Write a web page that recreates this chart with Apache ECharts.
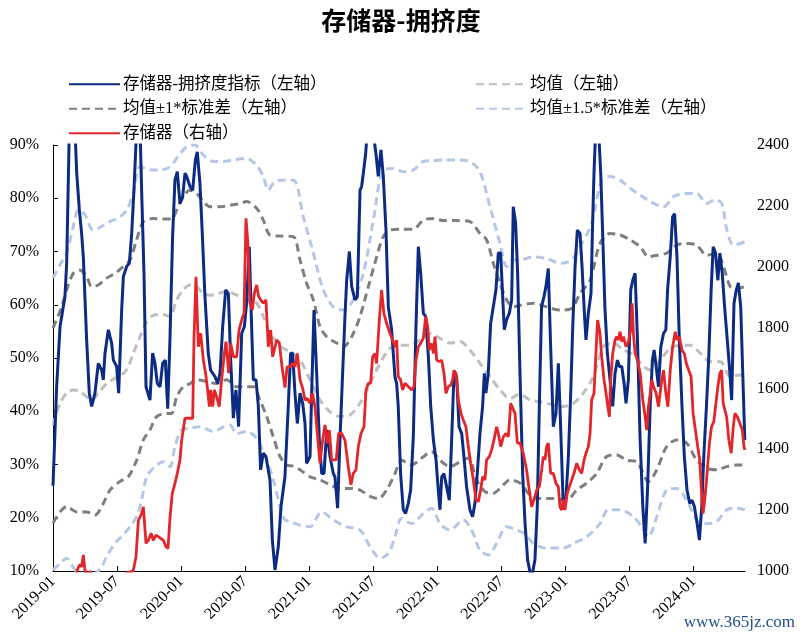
<!DOCTYPE html>
<html><head><meta charset="utf-8">
<script src="https://cdn.jsdelivr.net/npm/echarts@6/dist/echarts.min.js"></script>
<style>html,body{margin:0;padding:0;background:#fff}#c{width:802px;height:639px}</style>
</head><body><div id="c"></div>
<script>
// x = months since 2019-01
const xTickLabels = ['2019-01','2019-07','2020-01','2020-07','2021-01','2021-07','2022-01','2022-07','2023-01','2023-07','2024-01'];
const leftTicks = [10,20,30,40,50,60,70,80,90];
const rightTicks = [1000,1200,1400,1600,1800,2000,2200,2400];

// 存储器-拥挤度指标 (%)
const crowd = [[0,26],[0.34,44.6],[0.66,55.9],[1.12,61.5],[1.28,67.8],[1.53,93],[2.06,93],[2.22,84.7],[2.47,77.8],[2.68,73.4],[2.84,69],[3.15,53.4],[3.4,43.4],[3.62,40.9],[3.93,43.4],[4.24,49],[4.56,47.7],[4.71,45.9],[4.87,50.9],[5.18,55.3],[5.49,52.8],[5.65,49.6],[5.96,48.4],[6.15,43.4],[6.43,59],[6.59,65.3],[6.9,67.2],[7.15,67.8],[7.37,73.4],[7.58,81.5],[7.83,93],[8.15,93],[8.3,81.5],[8.52,65.9],[8.71,44.6],[9.08,42.1],[9.33,50.9],[9.55,49],[9.77,45.2],[10.02,44.6],[10.27,49],[10.52,49.6],[10.74,40.5],[10.95,53.4],[11.2,72.8],[11.42,83.4],[11.64,85],[11.89,79],[12.14,80.3],[12.36,84.7],[12.52,84.1],[12.83,82.2],[13.08,81.5],[13.33,87.2],[13.51,88.7],[13.76,82.8],[13.98,73.4],[14.23,61.5],[14.54,50.9],[14.76,47.7],[15.17,46.5],[15.42,45.2],[15.64,47.1],[15.89,55.9],[16.17,62.8],[16.42,62.1],[16.64,49.6],[16.89,38.7],[17.13,44],[17.38,37.1],[17.67,54.6],[17.92,55.9],[18.13,60.3],[18.38,70.9],[18.6,55.9],[18.76,45.9],[19.01,45.9],[19.23,40.9],[19.44,29],[19.69,32.1],[19.94,31.5],[20.32,27.1],[20.54,15.8],[20.79,10.2],[21.1,14.6],[21.35,22.1],[21.72,27.7],[22.03,40.9],[22.25,50.9],[22.44,50.9],[22.66,43.4],[22.88,37.7],[23.13,43.4],[23.38,41.5],[23.6,37.7],[23.75,30.2],[24.07,31.5],[24.22,43.4],[24.44,59],[24.69,47.1],[24.94,34.6],[25.16,28.3],[25.38,28.3],[25.63,36.5],[25.94,31.5],[26.25,28.3],[26.4,27.7],[26.65,21.8],[26.87,34.6],[27.12,47.1],[27.34,57.8],[27.5,64.6],[27.75,70],[27.97,63.4],[28.28,60.9],[28.5,61.5],[28.75,81.5],[28.9,82.2],[29.06,84.7],[29.28,88.4],[29.44,93],[29.7,95],[29.95,93],[30.24,88.4],[30.46,84.1],[30.71,89.1],[30.93,84.1],[31.18,74],[31.4,59.6],[31.71,55.3],[32.02,46.5],[32.18,45.2],[32.33,40.9],[32.55,28.3],[32.8,21.5],[33.02,20.8],[33.27,22.7],[33.49,25.2],[33.74,35.2],[33.99,55.9],[34.21,70.9],[34.43,65.9],[34.68,58.4],[34.9,57.8],[35.15,50.3],[35.37,40.9],[35.62,34.6],[35.87,30.8],[36.08,25.2],[36.24,21.5],[36.4,27.7],[36.61,28.3],[36.86,25.8],[37.11,23.3],[37.33,34.6],[37.55,47.1],[37.8,46.5],[38.02,37.1],[38.27,35.8],[38.48,31.5],[38.73,25.8],[39.04,21.5],[39.29,20.2],[39.51,22.7],[39.73,28.3],[39.98,35.8],[40.23,40.9],[40.39,47.1],[40.54,43.4],[40.76,47.1],[40.98,56.5],[41.23,59.6],[41.48,62.8],[41.7,69.7],[41.92,69.7],[42.11,61.5],[42.26,55.3],[42.48,57.2],[42.73,58.4],[42.95,60.9],[43.1,78.4],[43.32,75.3],[43.51,65.9],[43.73,47.1],[43.98,28.3],[44.2,19],[44.45,12],[44.7,9.5],[44.85,9],[45.13,12.1],[45.35,22.1],[45.54,40.9],[45.75,59.6],[45.97,61.5],[46.16,63.4],[46.38,66.8],[46.6,52.1],[46.85,37.1],[47.1,39.6],[47.32,49],[47.47,40.9],[47.63,31.5],[47.79,21.5],[48.04,24],[48.26,31.5],[48.48,43.4],[48.67,55.9],[48.89,67.2],[49.1,74],[49.35,73.4],[49.54,67.2],[49.76,58.4],[49.91,53.4],[50.13,58.4],[50.38,62.1],[50.53,75.3],[50.66,84.7],[50.84,94],[51.06,94],[51.29,84.7],[51.48,72.8],[51.68,59.6],[51.91,50.9],[52.16,45.9],[52.41,40.9],[52.63,47.1],[52.85,49.6],[53.04,48.4],[53.26,48.4],[53.48,45.2],[53.66,41.5],[53.88,45.9],[54.1,62.8],[54.29,64.6],[54.51,65.9],[54.73,53.4],[54.98,34.6],[55.23,22.1],[55.45,15.2],[55.67,25.2],[55.92,40.9],[56.13,49.6],[56.29,51.5],[56.48,48.4],[56.7,44.6],[56.92,52.1],[57.17,54.6],[57.39,55.3],[57.55,62.8],[57.8,69],[58.02,76.5],[58.21,77.1],[58.43,69],[58.65,53.4],[58.9,40.9],[59.12,31.5],[59.37,25.2],[59.62,22.7],[59.84,23.3],[60.06,22.1],[60.31,19],[60.53,15.8],[60.75,22.1],[60.94,31.5],[61.19,40.9],[61.41,50.3],[61.63,62.8],[61.82,70.9],[62.04,69.7],[62.26,64.6],[62.45,69.7],[62.67,65.9],[62.89,59.6],[63.14,53.4],[63.39,47.1],[63.55,42.1],[63.77,60.3],[63.99,62.8],[64.18,64.1],[64.4,59.6],[64.59,47.1],[64.78,34.6]];

// 均值
const meanLine = [[0,37.4],[0.66,41.5],[1.28,43.4],[1.9,44],[2.53,43.7],[3.15,42.7],[3.62,42.1],[4.24,43.4],[5.02,45.2],[5.81,46.2],[6.59,47.1],[7.05,48.4],[7.52,50.9],[8.15,54],[8.77,56.8],[9.55,58.1],[10.33,58.1],[10.96,57.8],[11.58,60.9],[12.2,62.8],[12.83,63.7],[13.45,63.4],[14.08,62.1],[14.7,61.8],[15.48,62.1],[16.26,62.5],[17.2,61.8],[18.13,60.9],[19.07,60.3],[19.69,57.8],[20.32,54.6],[20.94,53.1],[21.57,51.8],[22.19,51.2],[23.13,49.6],[24.07,45.9],[25,42.1],[25.94,39.9],[26.87,39],[27.81,39.3],[28.75,41.5],[29.68,45.2],[30.62,49],[31.55,51.8],[32.49,52.4],[33.43,52.4],[34.36,53.4],[35.3,54.6],[36.24,53.7],[37.17,52.8],[38.11,53.1],[39.04,51.5],[39.98,49],[40.92,46.5],[41.86,44],[42.79,42.4],[43.73,43.2],[44.66,42.1],[45.6,41.8],[46.85,41.2],[47.79,40.9],[48.73,41.5],[49.66,43.4],[50.6,46.5],[51.53,52.1],[52.47,52.8],[53.41,51.5],[54.35,50.6],[55.29,48.4],[56.07,47.7],[56.85,49.6],[57.8,51.8],[58.73,52.4],[59.66,52.4],[60.6,50.9],[61.53,49.3],[62.48,49.3],[63.42,46.5],[64.33,46.8],[64.78,46.8]];

// 均值+1*标准差
const upper1 = [[0,55.6],[0.81,59.6],[1.28,62.8],[1.9,65.9],[2.53,66.5],[3.15,65.3],[3.62,63.4],[4.24,63.7],[5.02,65],[5.81,65.9],[6.59,67.2],[7.21,68.4],[7.83,72.2],[8.46,75.6],[9.39,76.2],[10.33,76.1],[11.11,76.1],[11.58,77.8],[12.2,80.3],[12.83,81.5],[13.45,80.9],[14.08,79.4],[14.7,78.4],[15.64,78.4],[16.57,78.7],[17.51,79],[18.13,79.4],[19.07,78.1],[19.69,75.9],[20.32,73.1],[21.26,72.9],[22.5,72.8],[23.13,68.4],[23.75,64],[24.38,60.9],[25,55.9],[25.63,54],[26.56,52.8],[27.19,52.1],[27.97,54],[28.75,57.8],[29.53,63.4],[30.31,69],[30.93,72.8],[31.55,74],[32.49,74.2],[33.74,74.2],[34.68,75.9],[35.62,76.2],[36.55,75.8],[37.8,75.8],[39.04,75.6],[39.98,73.4],[40.6,72.2],[41.23,67.8],[41.86,64],[42.48,60.9],[43.1,59.6],[43.73,59.9],[44.97,60.3],[46.22,59.6],[47.47,59],[48.56,59.3],[49.35,62.1],[50.29,64.6],[51.22,71.5],[52.16,73.4],[53.1,73.1],[54.04,72.2],[54.98,70.9],[55.76,69],[56.54,69.3],[57.47,69.7],[58.4,71.2],[59.34,71.5],[60.28,71.2],[61.22,69.3],[62.16,69.7],[62.78,67.2],[63.42,63.4],[64.04,63.1],[64.78,63.4]];

// 均值-1*标准差
const lower1 = [[0,19],[0.66,21.1],[1.28,22.1],[2.22,21.1],[3.15,21.1],[3.93,20.5],[4.71,22.7],[5.34,25.2],[6.27,26.8],[7.05,27.7],[7.83,30.8],[8.46,34.6],[9.08,36.5],[9.71,39],[10.64,39.6],[11.11,39.6],[11.58,42.7],[12.2,44.6],[12.83,45.2],[13.45,45.9],[14.39,45.6],[15.32,45.2],[16.26,45.9],[17.2,44.6],[18.13,44.6],[18.76,44.6],[19.38,42.1],[20.01,39],[20.63,35.2],[21.26,31.5],[21.88,29.9],[22.5,29.7],[23.13,29],[24.07,27.7],[25,27.1],[25.94,26.2],[26.87,25.5],[27.81,25.5],[28.75,25.2],[29.68,24],[30.46,23.6],[31.24,25.2],[32.02,28.3],[32.65,30.8],[33.58,29.9],[34.52,31.2],[35.46,32.4],[36.24,30.8],[37.17,29.6],[38.11,30.5],[38.89,31.2],[39.67,27.1],[40.45,24.9],[41.23,24.6],[41.86,25.5],[42.79,27.1],[43.73,26.5],[44.66,24.3],[45.6,23.6],[46.85,23.6],[48.1,23.3],[49.04,25.2],[49.97,26.5],[50.91,28.3],[51.84,31.5],[52.79,31.8],[53.72,30.8],[54.66,30.5],[55.76,26.8],[56.54,29],[57.47,33.4],[58.4,34.6],[59.34,34],[60.28,30.8],[61.22,29.3],[62.16,29],[63.09,29.6],[64.04,29.9],[64.78,29.9]];

// 均值+1.5*标准差
const upper15 = [[0,65],[0.66,67.5],[1.28,69.7],[1.9,74.7],[2.37,77.8],[2.99,76.9],[3.46,74.7],[3.78,74],[4.56,74.7],[5.34,75.6],[6.27,76.5],[6.9,77.8],[7.52,80.9],[8.15,85.9],[9.08,85.3],[10.02,85.3],[10.96,85.9],[11.58,87.5],[12.52,89.7],[13.3,90],[14.08,88.1],[15.01,86.9],[15.95,86.9],[16.89,87.2],[18.13,87.5],[19.07,86.2],[19.69,84.1],[20.16,81.5],[20.63,82.8],[21.26,83.4],[22.5,83.4],[23.44,76.5],[24.38,69.7],[25.31,62.8],[26.25,59.6],[27.19,59],[28.12,60.9],[29.06,65.9],[30,75.9],[30.93,85.3],[31.87,85.6],[32.8,85],[33.74,85.3],[34.68,86.9],[35.62,87.1],[36.55,87.2],[37.8,87.2],[39.04,86.9],[39.98,85],[40.92,78.4],[41.86,71.5],[42.48,67.2],[43.1,68.4],[43.73,68.4],[44.97,69],[46.22,68.7],[47.47,67.8],[48.56,68.4],[49.51,71.5],[50.44,75.3],[51.38,83.4],[52.16,84.1],[53.1,83.4],[54.04,81.9],[54.98,80.6],[55.92,79.4],[57.17,78.4],[58.11,80.3],[59.21,80.9],[60.28,80.9],[61.22,79],[62,79.7],[62.63,79],[63.11,74],[63.73,71.2],[64.78,71.8]];

// 均值-1.5*标准差
const lower15 = [[0,10.2],[0.66,11.4],[1.28,12.4],[1.75,11.1],[2.22,9.9],[3.15,9.5],[3.93,9.6],[4.56,10.8],[5.02,12.7],[5.81,15.2],[6.59,16.8],[7.21,18.3],[7.83,20.2],[8.3,23.3],[8.77,27.7],[9.55,29.6],[10.33,30.5],[10.96,29.6],[11.42,33.4],[12.05,36.5],[12.83,36.8],[13.76,37.1],[15.01,36.2],[16.01,37.1],[16.57,37.4],[17.2,35.8],[18.13,36.2],[19.07,34.9],[20.01,30.8],[20.63,27.1],[21.26,22.1],[21.72,19.6],[22.19,19.3],[23.13,18.6],[24.07,18.3],[25.16,21.1],[26.25,19.6],[27.5,18.3],[28.75,17.7],[29.68,14.6],[30.62,12.4],[31.4,13.3],[32.02,16.4],[32.65,19.9],[33.58,18.9],[34.68,20.8],[35.46,21.8],[36.24,18.9],[37.17,17.7],[38.42,19.6],[39.2,17.7],[39.98,13.9],[40.76,13],[41.54,15.2],[42.48,18.3],[43.42,17.7],[44.2,17],[44.97,15.2],[46.22,14.3],[47.79,14.3],[48.73,15.2],[49.97,16.4],[51.22,18.9],[51.99,21.5],[53.1,21.5],[54.35,20.2],[55.13,18.3],[55.76,16.4],[56.54,20.2],[57.47,25.2],[58.4,25.5],[59.34,23.3],[60.28,19.6],[61.22,18.9],[62.16,19.3],[63.09,21.5],[64.04,21.8],[64.78,21.5]];

// 存储器 (right axis)
const storage = [[0,950],[2.2,990],[2.28,1003],[2.47,1020],[2.68,1014],[2.84,1053],[2.99,1003],[3.2,985],[3.5,1000],[3.7,970],[6.5,975],[7.0,995],[7.5,1000],[7.77,1045],[7.99,1165],[8.3,1189],[8.46,1211],[8.71,1091],[8.93,1101],[9.18,1124],[9.39,1101],[9.64,1118],[9.86,1113],[10.08,1107],[10.33,1101],[10.58,1080],[10.77,1074],[10.96,1178],[11.17,1255],[11.42,1288],[11.64,1321],[11.89,1365],[12.05,1430],[12.36,1502],[12.83,1502],[13.08,1502],[13.2,1759],[13.39,1967],[13.61,1737],[13.83,1781],[14.08,1693],[14.29,1650],[14.48,1595],[14.64,1540],[14.76,1595],[14.95,1540],[15.11,1595],[15.32,1573],[15.57,1540],[15.79,1628],[16.01,1704],[16.2,1754],[16.45,1650],[16.64,1748],[16.89,1704],[17.2,1704],[17.42,1792],[17.67,1825],[17.89,1847],[18.07,2159],[18.23,2088],[18.45,1880],[18.66,1858],[18.85,1912],[19.07,1940],[19.26,1902],[19.44,1891],[19.69,1880],[19.94,1891],[20.16,1737],[20.38,1792],[20.57,1704],[20.72,1704],[20.94,1759],[21.19,1750],[21.45,1671],[21.72,1603],[21.92,1671],[22.19,1671],[22.44,1682],[22.66,1671],[22.88,1715],[23.13,1628],[23.38,1600],[23.6,1562],[23.82,1567],[24.07,1551],[24.31,1584],[24.53,1540],[24.75,1452],[25,1354],[25.25,1430],[25.47,1480],[25.69,1420],[25.88,1463],[26.09,1365],[26.34,1365],[26.53,1365],[26.74,1452],[27.03,1452],[27.34,1430],[27.65,1343],[27.9,1283],[28.12,1321],[28.37,1332],[28.59,1409],[28.84,1452],[29.12,1474],[29.31,1595],[29.53,1617],[29.74,1617],[29.93,1704],[30.15,1715],[30.3,1682],[30.56,1825],[30.77,1923],[30.99,1847],[31.24,1814],[31.55,1781],[31.8,1759],[32.02,1737],[32.18,1759],[32.33,1639],[32.55,1628],[32.74,1595],[32.96,1617],[33.27,1606],[33.58,1595],[33.8,1606],[33.99,1693],[34.21,1737],[34.43,1748],[34.68,1765],[34.9,1836],[35.09,1803],[35.24,1726],[35.46,1748],[35.62,1715],[35.77,1770],[35.93,1693],[36.18,1688],[36.4,1693],[36.61,1650],[36.8,1584],[37.02,1606],[37.24,1611],[37.42,1628],[37.55,1660],[37.74,1650],[37.96,1562],[38.21,1518],[38.42,1496],[38.67,1474],[38.89,1409],[39.11,1354],[39.36,1299],[39.61,1234],[39.83,1228],[40.04,1266],[40.23,1310],[40.45,1299],[40.6,1365],[40.86,1376],[41.07,1398],[41.29,1430],[41.54,1474],[41.7,1452],[41.92,1409],[42.17,1441],[42.42,1452],[42.64,1441],[42.86,1551],[43.04,1551],[43.26,1518],[43.48,1420],[43.73,1420],[44.04,1387],[44.35,1332],[44.6,1266],[44.82,1211],[45.04,1234],[45.29,1266],[45.54,1277],[45.76,1332],[45.91,1376],[46.07,1365],[46.22,1409],[46.38,1420],[46.6,1321],[46.85,1321],[47.1,1288],[47.32,1277],[47.47,1211],[47.63,1200],[47.79,1234],[47.94,1200],[48.16,1255],[48.35,1277],[48.57,1299],[48.79,1321],[49.04,1354],[49.29,1332],[49.51,1321],[49.73,1365],[49.91,1387],[50.13,1409],[50.29,1452],[50.44,1562],[50.66,1584],[50.84,1715],[51,1825],[51.22,1781],[51.38,1704],[51.6,1628],[51.79,1584],[51.91,1551],[52.1,1507],[52.22,1628],[52.41,1715],[52.63,1759],[52.79,1770],[52.94,1759],[53.1,1786],[53.26,1754],[53.41,1770],[53.66,1737],[53.88,1754],[54.1,1792],[54.23,1880],[54.35,1781],[54.51,1715],[54.73,1693],[54.98,1650],[55.23,1562],[55.45,1507],[55.6,1463],[55.76,1540],[55.92,1584],[56.07,1628],[56.23,1606],[56.48,1584],[56.7,1540],[56.85,1584],[57.01,1628],[57.17,1660],[57.39,1584],[57.58,1540],[57.8,1660],[58.02,1737],[58.27,1786],[58.43,1759],[58.65,1770],[58.9,1726],[59.12,1715],[59.31,1682],[59.53,1660],[59.75,1639],[59.94,1518],[60.16,1463],[60.37,1409],[60.56,1365],[60.72,1266],[60.87,1189],[61.03,1234],[61.25,1321],[61.47,1420],[61.66,1474],[61.88,1491],[62.04,1540],[62.26,1606],[62.45,1650],[62.61,1660],[62.76,1551],[62.92,1551],[63.08,1507],[63.29,1430],[63.51,1387],[63.7,1474],[63.86,1518],[64.08,1507],[64.33,1485],[64.55,1463],[64.7,1409],[64.79,1398]];

const names = {
  crowd: '存储器-拥挤度指标（左轴）',
  mean: '均值（左轴）',
  std1: '均值±1*标准差（左轴）',
  std15: '均值±1.5*标准差（左轴）',
  storage: '存储器（右轴）'
};

const serif = '"Liberation Serif", "Noto Sans CJK SC", serif';
const chart = echarts.init(document.getElementById('c'), null, {renderer: 'canvas'});
const dash = [8, 5];
function band(name, data, color) {
  return {name, type: 'line', data, yAxisIndex: 0, symbol: 'none', smooth: 0.3,
    lineStyle: {color, width: 3, type: dash}, itemStyle: {color}, z: 2};
}
const legendCommon = {top: 76, orient: 'vertical', padding: 0, itemWidth: 51, itemHeight: 14, itemGap: 8,
  itemStyle: {opacity: 0},
  textStyle: {fontFamily: serif, fontSize: 16.5, color: '#000', padding: [0,0,0,-2]}};
chart.setOption({
  animation: false,
  backgroundColor: '#fff',
  title: {text: '存储器-拥挤度', left: 'center', top: 3,
    textStyle: {fontFamily: '"Noto Sans CJK SC", sans-serif', fontWeight: 'bold', fontSize: 25, color: '#000'}},
  legend: [
    Object.assign({left: 68, data: [names.crowd, names.std1, names.storage]}, legendCommon),
    Object.assign({left: 475, data: [names.mean, names.std15]}, legendCommon)
  ],
  grid: {left: 53, right: 57, top: 145, bottom: 68},
  xAxis: {type: 'value', min: 0, max: 64.8, interval: 6,
    axisLine: {onZero: false, lineStyle: {color: '#000', width: 1}},
    axisTick: {inside: true, length: 5, lineStyle: {color: '#000'}},
    splitLine: {show: false},
    axisLabel: {rotate: 45, margin: 8, fontFamily: serif, fontSize: 16, color: '#000',
      formatter: v => (Math.abs(v % 6) < 1e-6 && xTickLabels[Math.round(v/6)]) ? xTickLabels[Math.round(v/6)] : '',
      showMaxLabel: false}
  },
  yAxis: [
    {type: 'value', min: leftTicks[0], max: leftTicks[leftTicks.length-1], interval: 10, position: 'left',
      axisLine: {show: true, lineStyle: {color: '#000'}},
      axisTick: {show: true, inside: true, length: 5, lineStyle: {color: '#000'}},
      splitLine: {show: false},
      axisLabel: {margin: 14, fontFamily: serif, fontSize: 16, color: '#000', formatter: '{value}%'}},
    {type: 'value', min: rightTicks[0], max: rightTicks[rightTicks.length-1], interval: 200, position: 'right',
      axisLine: {show: false}, axisTick: {show: false}, splitLine: {show: false},
      axisLabel: {margin: 12, fontFamily: serif, fontSize: 16, color: '#000', formatter: v => String(v)}}
  ],
  series: [
    {name: names.crowd, type: 'line', data: crowd, yAxisIndex: 0, symbol: 'none',
      lineStyle: {color: '#0c2c84', width: 3}, itemStyle: {color: '#0c2c84'}, z: 3},
    band(names.mean, meanLine, '#bfbfbf'),
    band(names.std1, upper1, '#7f7f7f'),
    band(names.std1, lower1, '#7f7f7f'),
    band(names.std15, upper15, '#b4c7e7'),
    band(names.std15, lower15, '#b4c7e7'),
    {name: names.storage, type: 'line', data: storage, yAxisIndex: 1, symbol: 'none',
      lineStyle: {color: '#e3262a', width: 2.8}, itemStyle: {color: '#e3262a'}, z: 4}
  ],
  graphic: [
    {type: 'text', right: 7, top: 614, style: {text: 'www.365jz.com', fill: '#1f4e8c',
      font: '17px "Liberation Serif", serif'}}
  ]
});
</script></body></html>
